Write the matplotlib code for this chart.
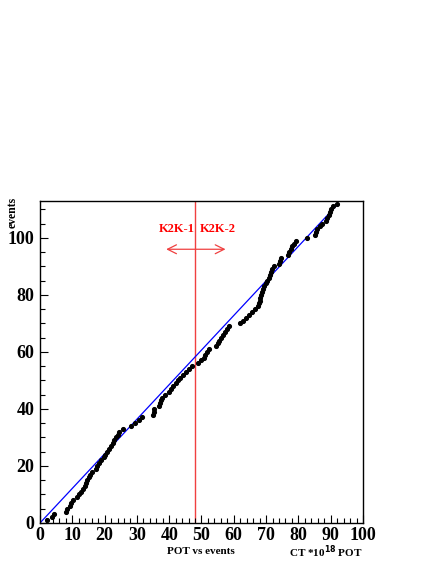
import matplotlib
matplotlib.use("Agg")
import matplotlib.pyplot as plt
from matplotlib.ticker import MultipleLocator

# cumulative event count vs POT (x 1e18)
events = list(range(1, 113))
pot = [2.2, 3.8, 4.2, 7.9, 8.4, 9.2, 9.6, 10.2, 11.6, 12.1,
       12.8, 13.3, 13.8, 14.2, 14.6, 15.1, 15.5, 16.0, 17.3, 17.8,
       18.3, 19.0, 19.7, 20.2, 20.9, 21.5, 22.1, 22.6, 23.0, 23.4,
       24.0, 24.4, 25.6, 28.3, 29.5, 30.8, 31.6, 35.0, 35.2, 35.4,
       36.8, 37.3, 37.6, 37.9, 38.7, 40.0, 40.6, 41.2, 42.0, 42.6,
       43.3, 44.2, 45.3, 46.2, 47.0, 49.0, 50.0, 50.7, 51.2, 51.8,
       52.2, 54.4, 55.0, 55.5, 56.1, 56.6, 57.2, 57.8, 58.4, 61.8,
       62.8, 63.8, 64.6, 65.6, 66.6, 67.4, 67.8, 68.0, 68.2, 68.5,
       68.8, 69.1, 69.5, 69.9, 70.4, 70.8, 71.2, 71.5, 71.9, 72.3,
       74.0, 74.3, 74.6, 76.8, 77.1, 77.6, 78.0, 78.5, 79.2, 82.8,
       85.0, 85.3, 85.7, 86.8, 87.4, 88.6, 89.0, 89.4, 89.8, 90.2,
       90.6, 91.9]

fit_x = [0, 92]
fit_y = [0, 111.6]
boundary = 48

plt.rcParams['font.family'] = ['Liberation Serif', 'DejaVu Serif']
plt.rcParams['font.weight'] = 'bold'

fig = plt.figure(figsize=(4.36, 5.64), dpi=100)
ax = fig.add_axes([0.0917, 0.0727, 0.7409, 0.5713])

ax.plot(fit_x, fit_y, color='blue', lw=0.9, zorder=2)
ax.plot(pot, events, 'o', color='black', ms=2.7, zorder=3)
ax.axvline(boundary, color='#f04040', lw=1.0, zorder=1)

ax.annotate('', xy=(38.2, 96), xytext=(58.3, 96),
            arrowprops=dict(arrowstyle='<->', color='#f04040', lw=0.9,
                            mutation_scale=16))
ax.text(42.3, 103, 'K2K-1', color='red', fontsize=9, fontweight='bold',
        ha='center', va='center')
ax.text(55.2, 103, 'K2K-2', color='red', fontsize=9, fontweight='bold',
        ha='center', va='center')

ax.set_xlim(0, 100)
ax.set_ylim(0, 113)
ax.xaxis.set_major_locator(MultipleLocator(10))
ax.xaxis.set_minor_locator(MultipleLocator(2))
ax.yaxis.set_major_locator(MultipleLocator(20))
ax.yaxis.set_minor_locator(MultipleLocator(5))
ax.tick_params(which='both', direction='in', top=False, right=False)
ax.tick_params(which='major', length=6, width=0.8, labelsize=13)
ax.tick_params(axis='x', which='major', pad=3)
ax.tick_params(axis='y', which='major', pad=4)
ax.tick_params(which='minor', length=3.5, width=0.8)
for lab in ax.get_xticklabels() + ax.get_yticklabels():
    lab.set_fontweight('bold')
for s in ax.spines.values():
    s.set_linewidth(1.0)

fig.text(201 / 436, 1 - 552 / 564, 'POT vs events', fontsize=8,
         fontweight='bold', ha='center', va='center')
fig.text(363 / 436, 1 - 552 / 564, r'CT *10$^{\mathbf{18}}$ POT', fontsize=8,
         fontweight='bold', ha='right', va='center')
fig.text(13 / 436, 1 - 197 / 564, 'events', fontsize=8.5, fontweight='bold',
         rotation=90, ha='center', va='top')

fig.savefig('out.png', dpi=100)
